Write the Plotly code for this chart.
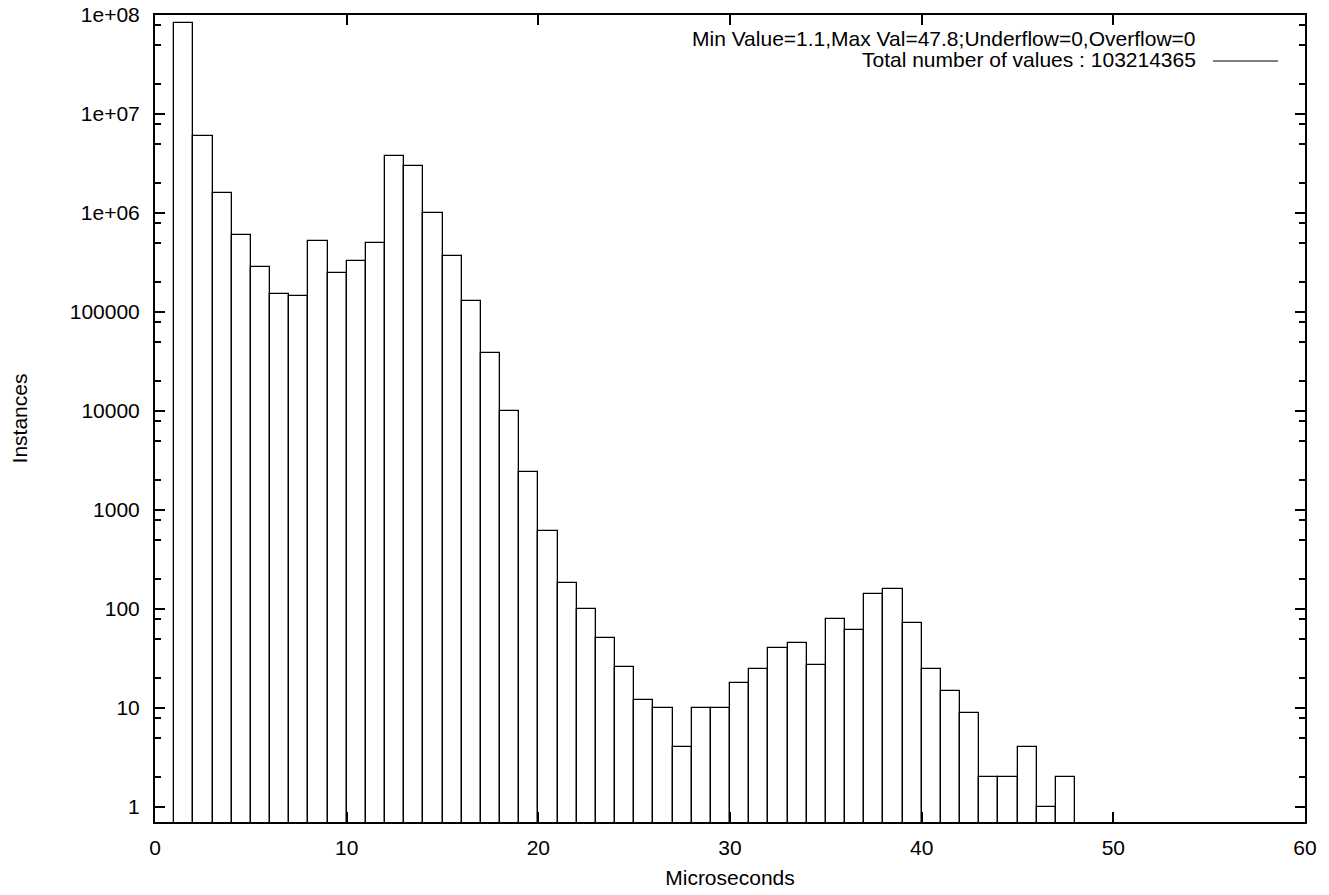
import plotly.graph_objects as go

# Histogram bins (left edges, microseconds) and counts
bin_left = [1, 2, 3, 4, 5, 6, 7, 8, 9, 10, 11, 12, 13, 14, 15, 16, 17, 18, 19, 20,
            21, 22, 23, 24, 25, 26, 27, 28, 29, 30, 31, 32, 33, 34, 35, 36, 37, 38, 39, 40,
            41, 42, 43, 44, 45, 46, 47]
counts = [8.4e7, 6.0e6, 1.58e6, 5.94e5, 2.86e5, 1.53e5, 1.46e5, 5.17e5, 2.49e5, 3.25e5,
          4.97e5, 3.73e6, 3.0e6, 1.01e6, 3.7e5, 1.28e5, 3.87e4, 1.01e4, 2410, 607,
          185, 100, 51, 26, 12, 10, 4, 10, 10, 18,
          25, 40, 45, 27, 80, 61, 142, 158, 73, 25,
          15, 9, 2, 2, 4, 1, 2]

x_ticks = [0, 10, 20, 30, 40, 50, 60]
y_ticks = [1, 10, 100, 1000, 10000, 100000, 1e6, 1e7, 1e8]
y_tick_text = ["1", "10", "100", "1000", "10000", "100000", "1e+06", "1e+07", "1e+08"]
y_minor = [m * 10 ** d for d in range(0, 8) for m in (2, 5, 8)]

legend_line1 = "Min Value=1.1,Max Val=47.8;Underflow=0,Overflow=0"
legend_line2 = "Total number of values : 103214365"

FONT = "Liberation Sans, Arial, Helvetica, sans-serif"
FS = 21

fig = go.Figure()
fig.add_trace(go.Bar(
    x=bin_left, y=counts, offset=0, width=1,
    marker=dict(color="white", line=dict(color="black", width=1.3)),
    showlegend=False,
))

fig.update_layout(
    width=1329, height=895,
    margin=dict(l=155, r=24, t=15, b=73),
    paper_bgcolor="white", plot_bgcolor="white",
    font=dict(family=FONT, size=FS, color="black"),
    bargap=0,
    xaxis=dict(
        range=[0, 60], tickvals=x_ticks, ticks="inside", ticklen=10, tickwidth=2,
        tickcolor="black", showline=True, linecolor="black", linewidth=2,
        mirror="allticks", showgrid=False, zeroline=False, automargin=False,
        ticklabelstandoff=6,
        title=dict(text="Microseconds", standoff=12, font=dict(size=FS)),
    ),
    yaxis=dict(
        type="log", range=[-0.1516, 8.0], tickvals=y_ticks, ticktext=y_tick_text,
        ticks="inside", ticklen=10, tickwidth=2, tickcolor="black",
        showline=True, linecolor="black", linewidth=2, mirror="allticks",
        showgrid=False, zeroline=False, ticklabelstandoff=9, automargin=False,
        minor=dict(tickvals=y_minor, ticks="inside", ticklen=6, tickwidth=2,
                   tickcolor="black", showgrid=False),
        title=dict(text="Instances", standoff=36, font=dict(size=FS)),
    ),
)

fig.add_annotation(
    xref="paper", yref="paper", x=(1198 - 155) / 1150, y=1 - (38 - 15) / 807,
    text=legend_line1, showarrow=False, xanchor="right", yanchor="middle",
    font=dict(size=FS),
)
fig.add_annotation(
    xref="paper", yref="paper", x=(1198 - 155) / 1150, y=1 - (60 - 15) / 807,
    text=legend_line2, showarrow=False, xanchor="right", yanchor="middle",
    font=dict(size=FS),
)
fig.add_shape(
    type="line", xref="paper", yref="paper",
    x0=(1213 - 155) / 1150, x1=(1278 - 155) / 1150,
    y0=1 - (61 - 15) / 807, y1=1 - (61 - 15) / 807,
    line=dict(color="black", width=1),
)

fig.write_html("out.html")
